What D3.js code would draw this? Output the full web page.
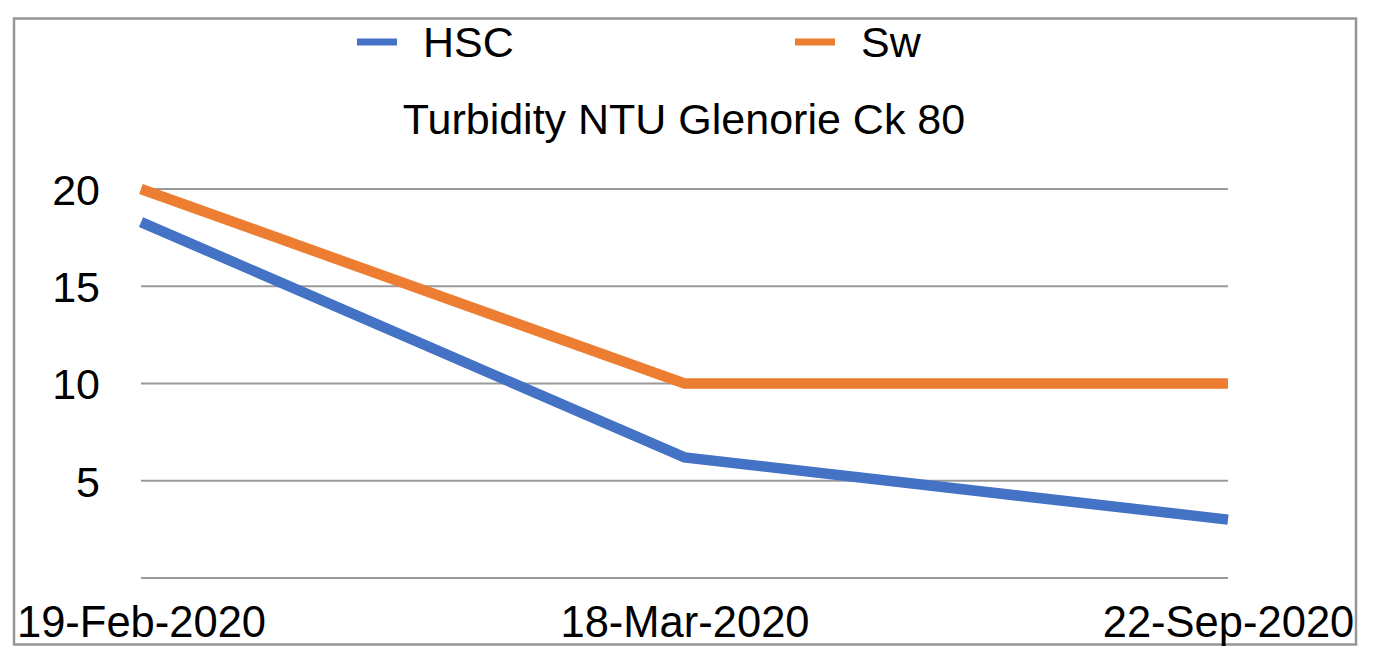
<!DOCTYPE html>
<html>
<head>
<meta charset="utf-8">
<script src="https://cdn.jsdelivr.net/npm/d3@7"></script>
<style>
  html, body { margin: 0; padding: 0; background: #fff; }
  svg { display: block; font-family: "Liberation Sans", Arial, Helvetica, sans-serif; }
</style>
</head>
<body>
<svg id="chart" width="1377" height="648"></svg>
<script>
// Sampling dates and turbidity readings (NTU)
const dates = ["19-Feb-2020", "18-Mar-2020", "22-Sep-2020"];
const hscValues = [18.3, 6.2, 3.0];
const swValues = [20, 10, 10];
const yTicks = [0, 5, 10, 15, 20];
const yTickLabels = ["", "5", "10", "15", "20"];
const seriesNames = ["HSC", "Sw"];
const seriesColors = ["#4472C4", "#ED7D31"];
const chartTitle = "Turbidity NTU Glenorie Ck 80";

const svg = d3.select("#chart");

// Outer frame
svg.append("rect")
  .attr("x", 14).attr("y", 18.5)
  .attr("width", 1342).attr("height", 626)
  .attr("fill", "#fff")
  .attr("stroke", "#969696")
  .attr("stroke-width", 2.5);

const plot = { left: 141, right: 1228, top: 189, bottom: 578 };

const x = d3.scalePoint()
  .domain(dates)
  .range([plot.left, plot.right]);

const y = d3.scaleLinear()
  .domain([0, 20])
  .range([plot.bottom, plot.top]);

// Horizontal gridlines
svg.append("g")
  .selectAll("line")
  .data(yTicks)
  .join("line")
  .attr("x1", plot.left).attr("x2", plot.right)
  .attr("y1", d => y(d)).attr("y2", d => y(d))
  .attr("stroke", "#9a9a9a")
  .attr("stroke-width", 2);

// Y axis labels
const yAxis = d3.axisLeft(y)
  .tickValues(yTicks)
  .tickSize(0)
  .tickPadding(0)
  .tickFormat((d, i) => yTickLabels[i]);
const gy = svg.append("g")
  .attr("transform", `translate(100,0)`)
  .call(yAxis);
gy.select(".domain").remove();
gy.selectAll("text")
  .attr("font-size", 43)
  .attr("fill", "#000")
  .attr("dy", "0.36em")
  .style("font-family", "'Liberation Sans', Arial, sans-serif");

// X axis labels
const xAxis = d3.axisBottom(x).tickSize(0).tickPadding(0);
const gx = svg.append("g")
  .attr("transform", `translate(0,606)`)
  .call(xAxis);
gx.select(".domain").remove();
gx.selectAll("text")
  .attr("font-size", 43.5)
  .attr("fill", "#000")
  .attr("y", 0)
  .attr("dy", "0.72em")
  .style("font-family", "'Liberation Sans', Arial, sans-serif");

// Series lines
const line = d3.line()
  .x((d, i) => x(dates[i]))
  .y(d => y(d));

const series = [hscValues, swValues];
svg.append("g")
  .selectAll("path")
  .data(series)
  .join("path")
  .attr("d", d => line(d))
  .attr("fill", "none")
  .attr("stroke", (d, i) => seriesColors[i])
  .attr("stroke-width", 10.5)
  .attr("stroke-linejoin", "miter")
  .attr("stroke-linecap", "butt");

// Legend
const legendPos = [357, 795];
const legend = svg.append("g")
  .selectAll("g")
  .data(seriesNames)
  .join("g")
  .attr("transform", (d, i) => `translate(${legendPos[i]},42)`);
legend.append("line")
  .attr("x1", 0).attr("x2", 40)
  .attr("y1", 0).attr("y2", 0)
  .attr("stroke", (d, i) => seriesColors[i])
  .attr("stroke-width", 7);
legend.append("text")
  .attr("x", 66).attr("y", 15)
  .attr("font-size", 43)
  .attr("fill", "#000")
  .text(d => d);

// Title
svg.append("text")
  .attr("x", 684).attr("y", 134)
  .attr("text-anchor", "middle")
  .attr("font-size", 43)
  .attr("fill", "#000")
  .text(chartTitle);
</script>
</body>
</html>
